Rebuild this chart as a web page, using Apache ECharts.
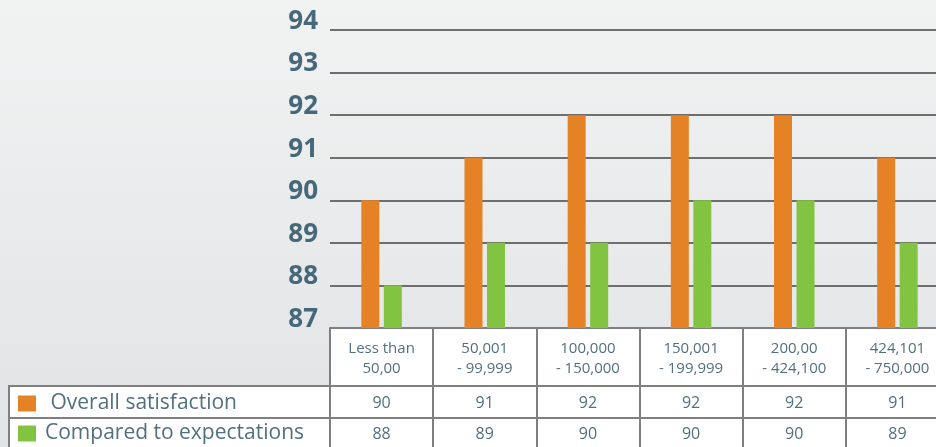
<!DOCTYPE html>
<html><head><meta charset="utf-8">
<script src="https://cdn.jsdelivr.net/npm/echarts@6/dist/echarts.min.js"></script>
<style>html,body{margin:0;padding:0;}#c{width:936px;height:447px;}</style>
</head><body><div id="c"></div>
<script>
const categories = ['Less than\n50,00', '50,001\n- 99,999', '100,000\n- 150,000', '150,001\n- 199,999', '200,00\n- 424,100', '424,101\n- 750,000'];
const seriesNames = ['Overall satisfaction', 'Compared to expectations'];
const overallBars = [90, 91, 92, 92, 92, 91];
const expectBars = [88, 89, 89, 90, 90, 89];
const overallTable = ['90', '91', '92', '92', '92', '91'];
const expectTable = ['88', '89', '90', '90', '90', '89'];
const yTicks = [87, 88, 89, 90, 91, 92, 93, 94];

const ORANGE = '#e58225', GREEN = '#82c341', BORDER = '#7f7f7f', TXT = '#51707f';
const chart = echarts.init(document.getElementById('c'));
const tableFont = {fontFamily: 'Open Sans', color: TXT};
const legendBase = {
  orient: 'vertical', left: 13, itemWidth: 18, itemHeight: 16,
  icon: 'rect',
  textStyle: {fontFamily: 'Open Sans', fontSize: 21, color: TXT, padding: [0, 0, 0, 4]}
};
chart.setOption({
  backgroundColor: {type: 'linear', x: 0, y: 0, x2: 0, y2: 1,
    colorStops: [{offset: 0, color: '#f1f2f2'}, {offset: 1, color: '#e2e3e5'}]},
  animation: false,
  grid: {left: 330, top: 30, width: 619, height: 298, outerBoundsMode: 'none', containLabel: false},
  legend: [
    Object.assign({}, legendBase, {top: 388, data: [seriesNames[0]], formatter: n => ' ' + n}),
    Object.assign({}, legendBase, {top: 418, data: [seriesNames[1]]})
  ],
  xAxis: [
    {type: 'category', data: categories, position: 'bottom',
      axisLine: {show: true, lineStyle: {color: BORDER, width: 2}},
      axisTick: {show: true, length: 125, lineStyle: {color: BORDER, width: 2}},
      axisLabel: Object.assign({fontSize: 15, lineHeight: 20, margin: 11, interval: 0}, tableFont)},
    {type: 'category', data: categories, position: 'bottom',
      axisLine: {show: false}, axisTick: {show: false},
      axisLabel: Object.assign({fontSize: 16, lineHeight: 20, margin: 65, interval: 0,
        formatter: (v, i) => overallTable[i]}, tableFont)},
    {type: 'category', data: categories, position: 'bottom',
      axisLine: {show: false}, axisTick: {show: false},
      axisLabel: Object.assign({fontSize: 16, lineHeight: 20, margin: 96, interval: 0,
        formatter: (v, i) => expectTable[i]}, tableFont)}
  ],
  yAxis: {
    type: 'value', min: yTicks[0], max: yTicks[yTicks.length - 1], interval: 1,
    axisLine: {show: false}, axisTick: {show: false},
    splitLine: {lineStyle: {color: '#6e6e6e', width: 2}},
    axisLabel: {fontFamily: 'Open Sans', fontWeight: 'bold', fontSize: 26, color: '#46687a',
      margin: 12, lineHeight: 17, verticalAlign: 'bottom'}
  },
  graphic: [
    {type: 'rect', z: -10, shape: {x: 330, y: 328, width: 620, height: 130}, style: {fill: '#ffffff'}},
    {type: 'rect', z: -10, shape: {x: 9, y: 386, width: 321, height: 70}, style: {fill: '#ffffff', stroke: BORDER, lineWidth: 2}},
    {type: 'line', z: 100, shape: {x1: 9, y1: 386, x2: 950, y2: 386}, style: {stroke: BORDER, lineWidth: 2}},
    {type: 'line', z: 100, shape: {x1: 9, y1: 418, x2: 950, y2: 418}, style: {stroke: BORDER, lineWidth: 2}}
  ],
  series: [
    {name: seriesNames[0], type: 'bar', data: overallBars, barWidth: 18, barGap: '25%', itemStyle: {color: ORANGE}},
    {name: seriesNames[1], type: 'bar', data: expectBars, barWidth: 18, barGap: '25%', itemStyle: {color: GREEN}}
  ]
});
</script></body></html>
